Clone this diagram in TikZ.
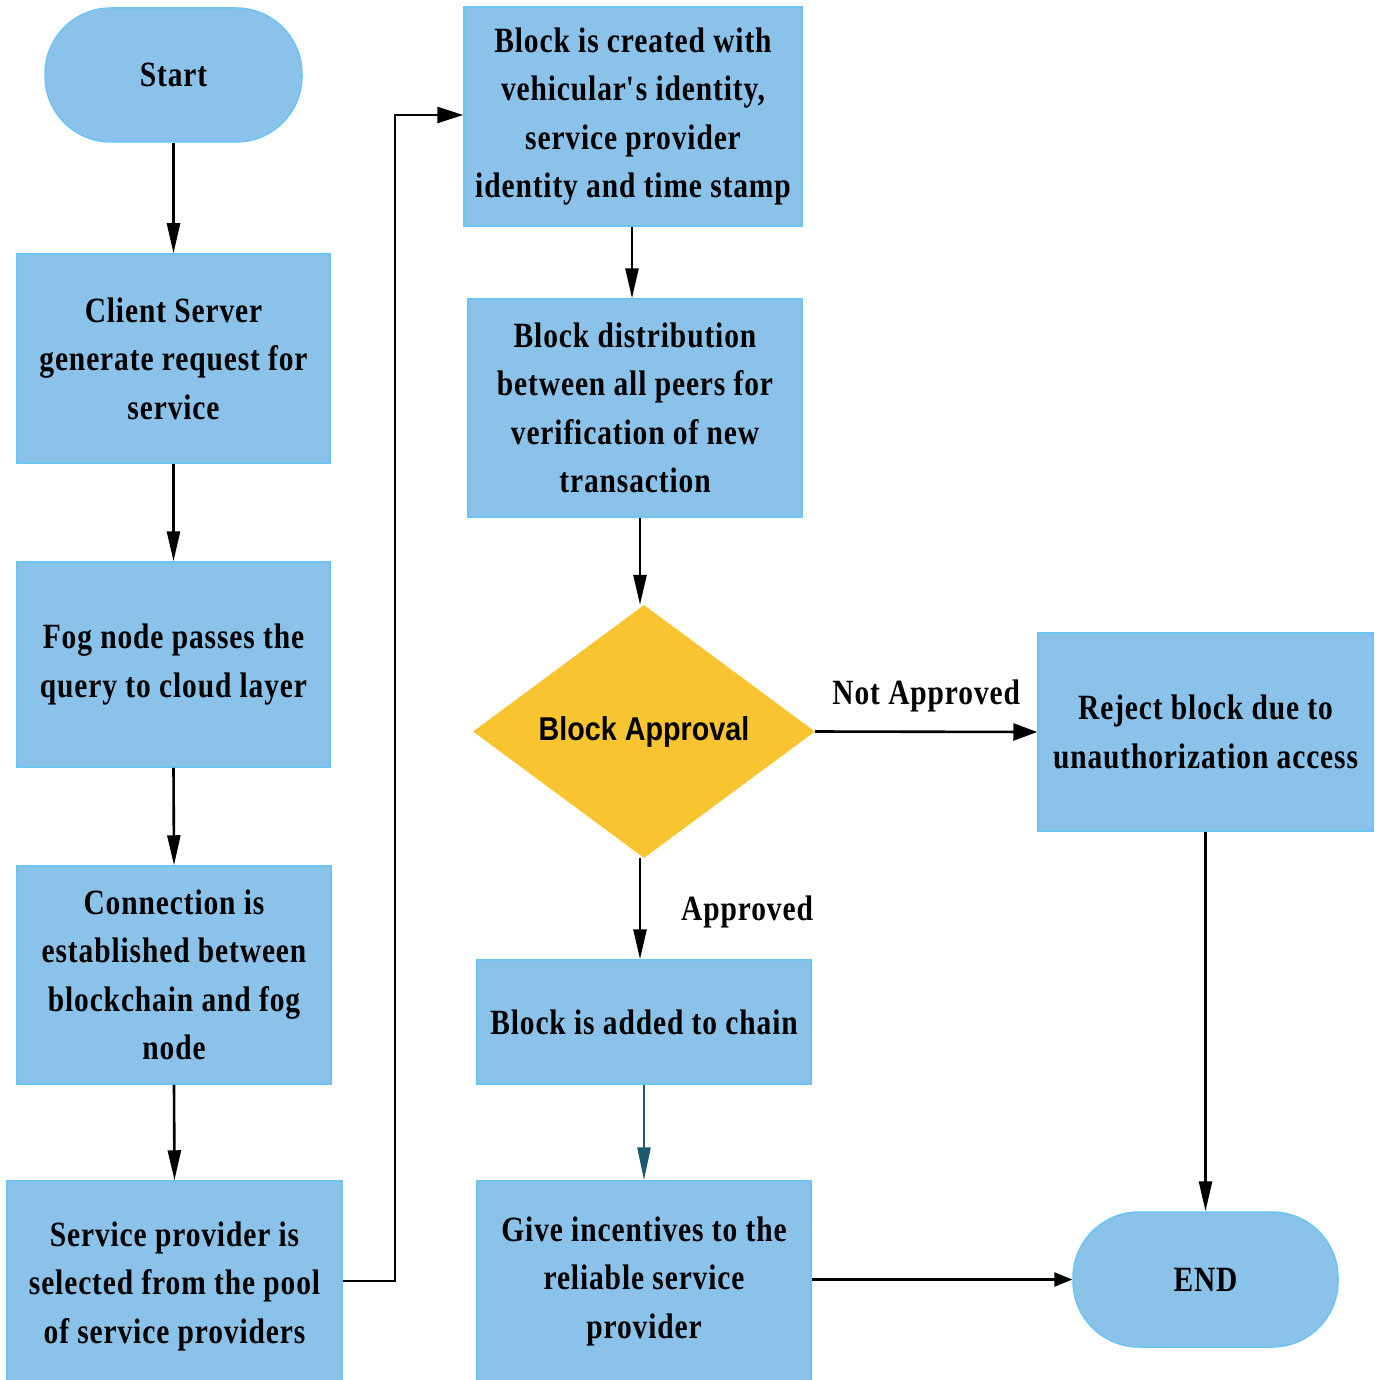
\documentclass[tikz,border=0pt]{standalone}
\usepackage{fontspec}
\setmainfont{Liberation Serif}[FakeStretch=0.83,LetterSpace=2.5]
\newfontfamily\diafont{Liberation Sans}[FakeStretch=0.87]
\usetikzlibrary{arrows.meta,shapes.geometric}
\definecolor{boxblue}{HTML}{8BC2EA}
\definecolor{boxline}{HTML}{6CC4F2}
\definecolor{diayel}{HTML}{F8C531}
\definecolor{tealarr}{HTML}{1B5A6E}
\begin{document}
\begin{tikzpicture}[x=1pt,y=-1pt,
  txt/.style={font=\bfseries\fontsize{35.5}{48.5}\selectfont, align=center, text=black},
  pbox/.style={txt, draw=boxline, line width=1.5pt, fill=boxblue, rectangle, inner sep=0pt},
  term/.style={pbox, rounded corners=66pt},
  flow/.style={line width=2.6pt, -{Triangle[length=30pt,width=13pt]}},
  lbl/.style={font=\bfseries\fontsize{35.5}{40}\selectfont, text=black, inner sep=0pt}
]
\useasboundingbox (0,0) rectangle (1380,1380);

% left column
\node[term, minimum width=257pt, minimum height=134pt] (start) at (173.5,75) {Start};
\node[pbox, minimum width=313pt, minimum height=209pt] (client) at (173.5,358.5) {Client Server\\generate request for\\service};
\node[pbox, minimum width=313pt, minimum height=205pt] (fog) at (173.5,664.5) {Fog node passes the\\query to cloud layer};
\node[pbox, minimum width=314pt, minimum height=218pt] (conn) at (174,975) {Connection is\\established between\\blockchain and fog\\node};
\node[pbox, minimum width=335pt, minimum height=210pt] (serv) at (174.5,1286) {Service provider is\\selected from the pool\\of service providers};

% middle column
\node[pbox, minimum width=338pt, minimum height=219pt] (create) at (633,116.5) {Block is created with\\vehicular\textquotesingle s identity,\\service provider\\identity and time stamp};
\node[pbox, minimum width=334pt, minimum height=218pt] (dist) at (635,408) {Block distribution\\between all peers for\\verification of new\\transaction};
\node[diamond, fill=diayel, draw=none, minimum width=342pt, minimum height=253pt, inner sep=0pt,
      font=\diafont\bfseries\fontsize{33}{40}\selectfont] (appr) at (644,731.5) {Block Approval};
\node[pbox, minimum width=334pt, minimum height=124pt] (added) at (644,1022) {Block is added to chain};
\node[pbox, minimum width=334pt, minimum height=200pt] (give) at (644,1281) {Give incentives to the\\reliable service\\provider};

% right column
\node[pbox, minimum width=335pt, minimum height=198pt] (reject) at (1205.5,732) {Reject block due to\\unauthorization access};
\node[term, minimum width=265pt, minimum height=135pt] (end) at (1205.5,1279.5) {END};

% connectors
\draw[flow] (start.south) -- (client.north);
\draw[flow] (client.south) -- (fog.north);
\draw[flow] (fog.south) -- (conn.north);
\draw[flow] (conn.south) -- (serv.north);
\coordinate (c1) at (395,1281);
\coordinate (c2) at (395,115);
\draw[flow, -{Triangle[length=26pt,width=16pt]}] (serv.east |- c1) -- (c1) -- (c2) -- (create.west |- c2);
\draw[flow] (create.south -| 632,0) -- (dist.north -| 632,0);
\draw[flow] (dist.south -| 640,0) -- (appr.north -| 640,0);
\draw[flow, -{Triangle[length=24pt,width=17pt]}] (appr.east) -- node[lbl, above=18pt] {Not Approved} (reject.west);
\draw[flow] (appr.south -| 640,0) -- (added.north -| 640,0);
\node[lbl, anchor=west] (apl) at (681,912) {Approved};
\draw[flow, draw=tealarr, -{Triangle[length=33pt,width=13pt]}, tealarr] (added.south) -- (give.north);
\draw[flow, -{Triangle[length=18pt,width=14pt]}] (give.east |- end.west) -- (end.west);
\draw[flow] (reject.south -| end.north) -- (end.north);
\end{tikzpicture}
\end{document}
